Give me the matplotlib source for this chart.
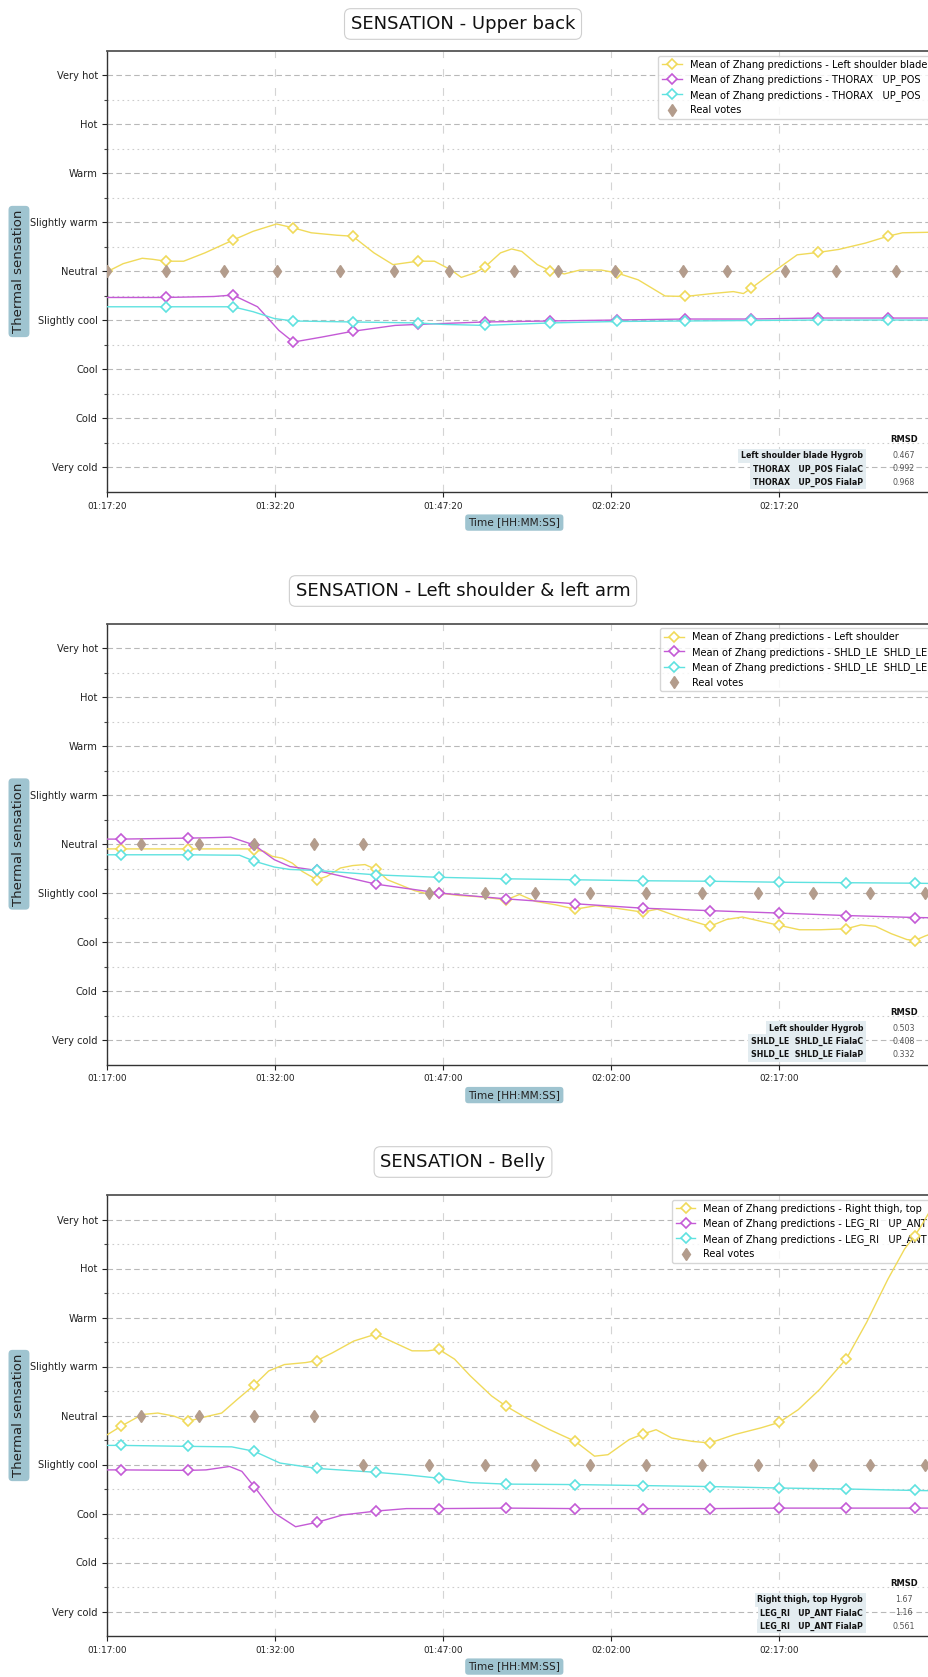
import numpy as np
import matplotlib
matplotlib.use('Agg')
import matplotlib.pyplot as plt
from matplotlib.ticker import FixedLocator

plt.rcParams['font.family'] = ['DejaVu Sans']

# ---------------- shared ----------------
sensation_values = [-4, -3, -2, -1, 0, 1, 2, 3, 4]
sensation_labels = ['Very cold', 'Cold', 'Cool', 'Slightly cool', 'Neutral',
                    'Slightly warm', 'Warm', 'Hot', 'Very hot']
tick_minutes = [0, 15, 30, 45, 60]
x_label = 'Time [HH:MM:SS]'
y_label = 'Thermal sensation'
rmsd_header = 'RMSD'

# ---------------- panel 1 : Upper back ----------------
p1_title = 'SENSATION - Upper back'
p1_xticklabels = ['01:17:20', '01:32:20', '01:47:20', '02:02:20', '02:17:20']
p1_names = ['Mean of Zhang predictions - Left shoulder blade',
            'Mean of Zhang predictions - THORAX   UP_POS',
            'Mean of Zhang predictions - THORAX   UP_POS',
            'Real votes']
p1_marks = [5.2, 11.2, 16.6, 21.9, 27.7, 33.7, 39.5, 45.5, 51.6, 57.5, 63.5, 69.7]
p1_yel_marks = [0.0] + p1_marks
p1_yel_t = [0, 1.4, 3.1, 4.0, 5.2, 6.8, 8.7, 11.2, 13.0, 15.1, 16.6, 18.2, 20.5, 21.9,
            23.8, 25.5, 27.7, 29.2, 30.7, 31.6, 32.8, 33.7, 35.1, 36.1, 37.0, 38.4,
            39.5, 40.8, 42.2, 44.1, 45.5, 47.4, 49.8, 51.6, 54.0, 55.9, 56.8, 57.5,
            59.7, 61.6, 63.5, 65.3, 67.7, 69.7, 71.0, 73.3, 75.0]
p1_yel_v = [0.0, 0.16, 0.27, 0.25, 0.21, 0.21, 0.38, 0.64, 0.82, 0.97, 0.89, 0.79, 0.74,
            0.72, 0.38, 0.14, 0.21, 0.21, 0.03, -0.12, -0.03, 0.09, 0.38, 0.46, 0.41,
            0.14, 0.02, -0.05, 0.03, 0.03, -0.03, -0.17, -0.50, -0.51, -0.45, -0.41,
            -0.45, -0.34, 0.03, 0.34, 0.39, 0.45, 0.58, 0.72, 0.79, 0.80, 0.80]
p1_mag_t = [0, 5.2, 9.5, 11.2, 13.4, 15.3, 16.6, 19.1, 21.9, 25.7, 27.7, 33.7, 39.5,
            45.5, 51.6, 57.5, 63.5, 69.7, 75.0]
p1_mag_v = [-0.53, -0.53, -0.51, -0.48, -0.72, -1.20, -1.44, -1.34, -1.22, -1.10, -1.08,
            -1.03, -1.01, -0.99, -0.97, -0.97, -0.95, -0.95, -0.95]
p1_cya_t = [0, 5.2, 11.2, 13.0, 14.9, 16.6, 21.9, 27.7, 30.0, 33.7, 39.5, 45.5, 51.6,
            57.5, 63.5, 69.7, 75.0]
p1_cya_v = [-0.72, -0.72, -0.72, -0.82, -0.96, -1.01, -1.03, -1.05, -1.08, -1.10, -1.05,
            -1.02, -1.01, -1.00, -0.99, -0.99, -0.99]
p1_vote_t = [0, 5.2, 10.4, 15.1, 20.8, 25.6, 30.5, 36.3, 40.2, 45.3, 51.4, 55.3, 60.5,
             65.1, 70.4]
p1_vote_v = [0, 0, 0, 0, 0, 0, 0, 0, 0, 0, 0, 0, 0, 0, 0]
p1_rmsd_names = ['Left shoulder blade Hygrob', 'THORAX   UP_POS FialaC',
                 'THORAX   UP_POS FialaP']
p1_rmsd_values = ['0.467', '0.992', '0.968']

# ---------------- panel 2 : Left shoulder & left arm ----------------
p2_title = 'SENSATION - Left shoulder & left arm'
p2_xticklabels = ['01:17:00', '01:32:00', '01:47:00', '02:02:00', '02:17:00']
p2_names = ['Mean of Zhang predictions - Left shoulder',
            'Mean of Zhang predictions - SHLD_LE  SHLD_LE',
            'Mean of Zhang predictions - SHLD_LE  SHLD_LE',
            'Real votes']
p2_marks = [1.2, 7.2, 13.1, 18.7, 24.0, 29.6, 35.6, 41.8, 47.8, 53.8, 60.0, 66.0, 72.1]
p2_yel_t = [0, 1.2, 7.2, 12.5, 13.1, 14.0, 14.7, 15.6, 16.5, 17.4, 18.7, 19.6, 20.8,
            21.9, 23.0, 24.0, 25.0, 26.1, 27.4, 28.8, 29.6, 31.4, 33.4, 35.6, 36.8,
            38.2, 40.0, 41.8, 43.6, 45.4, 47.8, 49.1, 51.3, 53.8, 55.3, 56.7, 58.4,
            60.0, 61.8, 63.7, 66.0, 67.3, 68.6, 70.0, 71.4, 72.1, 73.0, 74.2, 75.0]
p2_yel_v = [-0.10, -0.10, -0.10, -0.10, -0.12, -0.15, -0.25, -0.29, -0.39, -0.56, -0.73,
            -0.66, -0.49, -0.44, -0.42, -0.52, -0.73, -0.83, -0.95, -1.03, -1.00, -1.05,
            -1.08, -1.14, -1.03, -1.17, -1.24, -1.33, -1.26, -1.31, -1.39, -1.33, -1.51,
            -1.68, -1.54, -1.49, -1.58, -1.66, -1.75, -1.75, -1.73, -1.65, -1.68, -1.83,
            -1.95, -1.97, -1.88, -1.78, -1.75]
p2_mag_t = [0, 1.2, 7.2, 9.5, 11.0, 13.1, 14.9, 16.3, 18.7, 24.0, 29.6, 35.6, 41.8,
            47.8, 53.8, 60.0, 66.0, 72.1, 75.0]
p2_mag_v = [0.10, 0.10, 0.12, 0.13, 0.14, -0.02, -0.32, -0.46, -0.54, -0.82, -1.00,
            -1.12, -1.22, -1.31, -1.36, -1.41, -1.46, -1.50, -1.51]
p2_cya_t = [0, 1.2, 7.2, 11.8, 13.1, 14.9, 16.3, 18.7, 24.0, 29.6, 35.6, 41.8, 47.8,
            53.8, 60.0, 66.0, 72.1, 75.0]
p2_cya_v = [-0.22, -0.22, -0.22, -0.23, -0.35, -0.47, -0.52, -0.54, -0.63, -0.68, -0.71,
            -0.73, -0.75, -0.76, -0.78, -0.79, -0.80, -0.81]
p2_vote_t = [3.0, 8.2, 13.1, 18.4, 22.8, 28.7, 33.7, 38.2, 43.1, 48.1, 53.1, 58.1, 63.0,
             68.1, 73.0]
p2_vote_v = [0, 0, 0, 0, 0, -1, -1, -1, -1, -1, -1, -1, -1, -1, -1]
p2_rmsd_names = ['Left shoulder Hygrob', 'SHLD_LE  SHLD_LE FialaC',
                 'SHLD_LE  SHLD_LE FialaP']
p2_rmsd_values = ['0.503', '0.408', '0.332']

# ---------------- panel 3 : Belly ----------------
p3_title = 'SENSATION - Belly'
p3_xticklabels = ['01:17:00', '01:32:00', '01:47:00', '02:02:00', '02:17:00']
p3_names = ['Mean of Zhang predictions - Right thigh, top',
            'Mean of Zhang predictions - LEG_RI   UP_ANT',
            'Mean of Zhang predictions - LEG_RI   UP_ANT',
            'Real votes']
p3_marks = [1.2, 7.2, 13.1, 18.7, 24.0, 29.6, 35.6, 41.8, 47.8, 53.8, 60.0, 66.0, 72.1]
p3_yel_t = [0, 1.2, 3.1, 4.5, 5.9, 7.2, 8.3, 10.2, 11.6, 13.1, 14.4, 15.8, 17.7, 18.7,
            20.1, 22.0, 23.4, 24.0, 25.3, 27.2, 28.6, 29.6, 31.0, 32.4, 34.3, 35.6,
            37.1, 39.5, 41.8, 43.5, 44.7, 46.6, 47.8, 49.0, 50.4, 52.3, 53.8, 56.0,
            58.4, 60.0, 61.7, 63.6, 66.0, 67.8, 69.7, 71.2, 72.1, 72.6, 73.4, 75.0]
p3_yel_v = [-0.39, -0.22, 0.02, 0.05, -0.01, -0.12, -0.05, 0.05, 0.33, 0.62, 0.91, 1.04,
            1.08, 1.12, 1.28, 1.52, 1.62, 1.66, 1.52, 1.32, 1.32, 1.35, 1.15, 0.81, 0.40,
            0.19, -0.01, -0.29, -0.53, -0.83, -0.80, -0.49, -0.38, -0.29, -0.46, -0.53,
            -0.56, -0.39, -0.25, -0.14, 0.12, 0.53, 1.16, 1.90, 2.78, 3.40, 3.67, 3.84,
            4.15, 4.80]
p3_mag_t = [0, 1.2, 7.2, 8.8, 10.9, 12.0, 13.1, 14.9, 16.8, 18.7, 21.0, 24.0, 26.7,
            29.6, 35.6, 41.8, 47.8, 53.8, 60.0, 66.0, 72.1, 75.0]
p3_mag_v = [-1.11, -1.11, -1.12, -1.11, -1.04, -1.14, -1.45, -1.99, -2.27, -2.18, -2.03,
            -1.95, -1.90, -1.90, -1.89, -1.90, -1.90, -1.90, -1.89, -1.89, -1.89, -1.89]
p3_cya_t = [0, 1.2, 7.2, 11.1, 13.1, 15.4, 18.7, 24.0, 26.7, 29.6, 32.4, 35.6, 41.8,
            47.8, 53.8, 60.0, 66.0, 72.1, 75.0]
p3_cya_v = [-0.61, -0.61, -0.63, -0.64, -0.73, -0.97, -1.08, -1.16, -1.21, -1.28, -1.37,
            -1.40, -1.41, -1.43, -1.45, -1.48, -1.50, -1.53, -1.54]
p3_vote_t = [3.0, 8.2, 13.1, 18.4, 22.8, 28.7, 33.7, 38.2, 43.1, 48.1, 53.1, 58.1, 63.0,
             68.1, 73.0]
p3_vote_v = [0, 0, 0, 0, -1, -1, -1, -1, -1, -1, -1, -1, -1, -1, -1]
p3_rmsd_names = ['Right thigh, top Hygrob', 'LEG_RI   UP_ANT FialaC',
                 'LEG_RI   UP_ANT FialaP']
p3_rmsd_values = ['1.67', '1.16', '0.561']

# ---------------- styling ----------------
COL_YEL = '#f0da5a'
COL_MAG = '#c45ad6'
COL_CYA = '#5fe2e0'
COL_VOTE = '#b39c8c'
LABEL_BOX = '#9fc4d0'
CELL_BOX = '#e3ecf0'

W, H = 929, 1677
fig = plt.figure(figsize=(W / 100, H / 100), dpi=100)

ax_left = 107.5 / W
ax_width = (936 - 107.5) / W
ax_height = 441 / H
panel_bottoms = [1 - 492 / H, 1 - 1064.5 / H, 1 - 1636 / H]
title_y = [1 - 24 / H, 1 - 591 / H, 1 - 1162 / H]

panels = [
    dict(title=p1_title, xt=p1_xticklabels, names=p1_names,
         series=[(p1_yel_t, p1_yel_v, p1_yel_marks, COL_YEL),
                 (p1_mag_t, p1_mag_v, p1_marks, COL_MAG),
                 (p1_cya_t, p1_cya_v, p1_marks, COL_CYA)],
         votes=(p1_vote_t, p1_vote_v), rn=p1_rmsd_names, rv=p1_rmsd_values),
    dict(title=p2_title, xt=p2_xticklabels, names=p2_names,
         series=[(p2_yel_t, p2_yel_v, p2_marks, COL_YEL),
                 (p2_mag_t, p2_mag_v, p2_marks, COL_MAG),
                 (p2_cya_t, p2_cya_v, p2_marks, COL_CYA)],
         votes=(p2_vote_t, p2_vote_v), rn=p2_rmsd_names, rv=p2_rmsd_values),
    dict(title=p3_title, xt=p3_xticklabels, names=p3_names,
         series=[(p3_yel_t, p3_yel_v, p3_marks, COL_YEL),
                 (p3_mag_t, p3_mag_v, p3_marks, COL_MAG),
                 (p3_cya_t, p3_cya_v, p3_marks, COL_CYA)],
         votes=(p3_vote_t, p3_vote_v), rn=p3_rmsd_names, rv=p3_rmsd_values),
]

for i, p in enumerate(panels):
    ax = fig.add_axes([ax_left, panel_bottoms[i], ax_width, ax_height])
    handles = []
    for (t, v, marks, col), name in zip(p['series'], p['names'][:3]):
        t = np.asarray(t, float)
        mask = [bool(np.any(np.isclose(x, marks))) for x in t]
        h, = ax.plot(t, v, color=col, lw=1.0, marker='D', ms=5.2, mew=1.2,
                     mfc='white', mec=col, markevery=mask, label=name, zorder=3)
        handles.append(h)
    vt, vv = p['votes']
    hv, = ax.plot(vt, vv, ls='none', marker='d', ms=6, color=COL_VOTE,
                  mec=COL_VOTE, label=p['names'][3], zorder=4)
    handles.append(hv)

    ax.set_xlim(0, 74.0)
    ax.set_ylim(-4.5, 4.5)
    ax.xaxis.set_major_locator(FixedLocator(tick_minutes))
    ax.set_xticklabels(p['xt'], fontsize=6.4)
    ax.yaxis.set_major_locator(FixedLocator(sensation_values))
    ax.yaxis.set_minor_locator(FixedLocator([s + 0.5 for s in sensation_values[:-1]]))
    ax.set_yticklabels(sensation_labels, fontsize=7.1)
    ax.tick_params(axis='y', which='major', length=3.5, width=0.8, colors='#222222')
    ax.tick_params(axis='y', which='minor', length=2.5, width=0.8, colors='#444444')
    ax.tick_params(axis='x', which='major', length=3.5, width=0.8, colors='#222222')

    ax.grid(which='major', axis='y', color='#b8b8b8', ls=(0, (5, 3)), lw=0.8)
    ax.grid(which='minor', axis='y', color='#cccccc', ls=(0, (1.5, 3)), lw=0.8)
    ax.grid(which='major', axis='x', color='#d4d4d4', ls=(0, (7, 10)), lw=0.8)
    ax.set_axisbelow(True)
    for s in ax.spines.values():
        s.set_color('#333333')
        s.set_linewidth(1.0)
    ax.spines['top'].set_color('#555555')
    ax.spines['top'].set_linewidth(1.3)

    ax.set_ylabel(y_label, fontsize=9.5, color='#222222',
                  bbox=dict(boxstyle='round,pad=0.3', fc=LABEL_BOX, ec='none'))
    ax.yaxis.set_label_coords(-0.099, 0.5)
    ax.set_xlabel(x_label, fontsize=7.6, color='#222222',
                  bbox=dict(boxstyle='round,pad=0.3', fc=LABEL_BOX, ec='none'))
    ax.xaxis.set_label_coords(0.491, -0.058)

    leg = ax.legend(handles=handles, loc='upper right', fontsize=7.1,
                    framealpha=0.8, edgecolor='#cccccc', handlelength=2.0,
                    labelspacing=0.45)
    leg.set_zorder(2.5)

    # RMSD table
    ax.text(0.961, 0.118, rmsd_header, transform=ax.transAxes, ha='center',
            va='center', fontsize=6, fontweight='bold', color='#111111', zorder=6)
    for k, (nm, val) in enumerate(zip(p['rn'], p['rv'])):
        yk = 0.082 - k * 0.0297
        ax.text(0.912, yk, nm, transform=ax.transAxes, ha='right', va='center',
                fontsize=5.7, fontweight='bold', color='#111111', zorder=6,
                bbox=dict(boxstyle='square,pad=0.35', fc=CELL_BOX, ec='none'))
        ax.text(0.961, yk, val, transform=ax.transAxes, ha='center', va='center',
                fontsize=5.7, color='#555555', zorder=6)

    fig.text(0.4984, title_y[i], p['title'], ha='center', va='center', fontsize=13,
             color='#111111',
             bbox=dict(boxstyle='round,pad=0.35', fc='white', ec='#cfcfcf', lw=0.8))

fig.savefig('out.png', dpi=100)
